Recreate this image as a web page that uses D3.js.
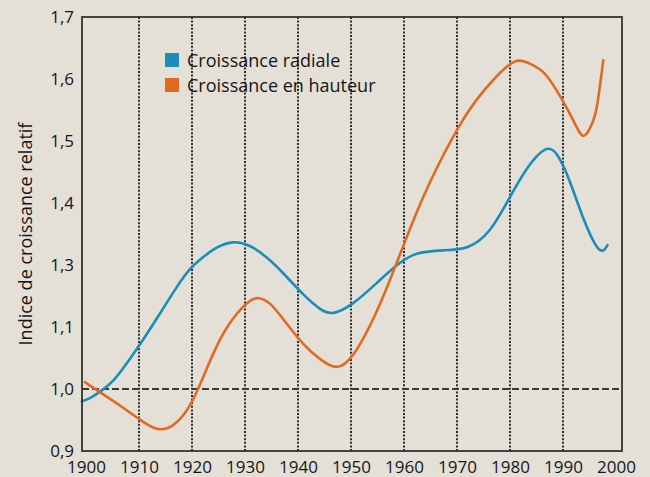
<!DOCTYPE html>
<html lang="fr">
<head>
  <meta charset="UTF-8">
  <title>Indice de croissance relatif</title>
  <script src="https://d3js.org/d3.v7.min.js"></script>
  <style>
    body { margin: 0; background: #e4e0d8; }
    svg { display: block; background: #e4e0d8; }
    text { font-family: "Open Sans", sans-serif; fill: #161616; }
    .axis text { font-size: 17px; fill: #161616; }
    .axis path, .axis line { display: none; }
    .frame { fill: none; stroke: #333; stroke-width: 1.8px; }
    .grid { stroke: #2e2e2e; stroke-width: 2px; stroke-dasharray: 2,1.6; }
    .baseline { stroke: #3a3a3a; stroke-width: 2px; stroke-dasharray: 7,3; }
    .curve { fill: none; stroke-width: 2.6px; stroke-linejoin: round; stroke-linecap: round; }
  </style>
</head>
<body>
<svg id="chart" width="650" height="477"></svg>
<script>
  // data
  const xTicks = [1900, 1910, 1920, 1930, 1940, 1950, 1960, 1970, 1980, 1990, 2000];
  const gridYears = [1910, 1920, 1930, 1940, 1950, 1960, 1970, 1980, 1990];
  // the printed axis skips 1,2 : labels are evenly spaced as printed
  const yTicks = [0.9, 1.0, 1.1, 1.3, 1.4, 1.5, 1.6, 1.7];

  const seriesNames = ["Croissance radiale", "Croissance en hauteur"];
  const seriesColors = ["#1a8dbb", "#e06a22"];

  const radialYears = [1899.2, 1900.8, 1902.6, 1905.2, 1907.7, 1911.0, 1914.0, 1917.1, 1919.6, 1921.5,
                       1924.7, 1927.8, 1930.9, 1934.1, 1937.3, 1941.0, 1944.2, 1946.4, 1950.3, 1954.8,
                       1959.2, 1962.4, 1967.4, 1972.1, 1976.2, 1979.7, 1983.2, 1986.8, 1988.8, 1991.3,
                       1993.8, 1997.0, 1998.4];
  const radialValues = [0.980, 0.985, 0.995, 1.012, 1.041, 1.082, 1.144, 1.230, 1.289, 1.309,
                        1.330, 1.339, 1.333, 1.313, 1.273, 1.203, 1.155, 1.137, 1.171, 1.241,
                        1.305, 1.321, 1.324, 1.325, 1.351, 1.405, 1.459, 1.493, 1.484, 1.437,
                        1.373, 1.313, 1.332];

  const heightYears = [1899.8, 1902.6, 1906.4, 1911.0, 1913.6, 1916.5, 1919.0, 1920.9, 1924.7, 1927.8,
                       1930.9, 1932.5, 1934.7, 1937.8, 1941.0, 1944.2, 1947.3, 1950.3, 1955.5, 1960.5,
                       1964.3, 1970.8, 1975.0, 1979.7, 1981.8, 1983.8, 1986.6, 1988.8, 1991.3, 1993.2,
                       1994.2, 1995.7, 1996.4, 1997.6];
  const heightValues = [1.011, 0.995, 0.974, 0.945, 0.932, 0.939, 0.963, 0.993, 1.074, 1.133,
                        1.188, 1.197, 1.182, 1.112, 1.071, 1.047, 1.030, 1.047, 1.165, 1.346,
                        1.426, 1.534, 1.582, 1.625, 1.632, 1.625, 1.612, 1.582, 1.545, 1.510,
                        1.505, 1.531, 1.550, 1.630];

  const svg = d3.select("#chart");
  const width = +svg.attr("width");
  const height = +svg.attr("height");
  const margin = { top: 17, right: 28, bottom: 26, left: 82 };
  const innerW = width - margin.left - margin.right;
  const innerH = height - margin.top - margin.bottom;

  const g = svg.append("g")
    .attr("transform", "translate(" + margin.left + "," + margin.top + ")");

  const x = d3.scaleLinear().domain([1900, 2000]).range([4, innerW - 6]);
  // polylinear: one even step per printed label
  const y = d3.scaleLinear()
    .domain(yTicks)
    .range(yTicks.map((d, i) => innerH - i * innerH / (yTicks.length - 1)));

  // vertical dotted lines
  g.selectAll("line.grid").data(gridYears)
    .join("line")
    .attr("class", "grid")
    .attr("x1", d => x(d)).attr("x2", d => x(d))
    .attr("y1", 0).attr("y2", innerH);

  // reference line at 1,0
  g.append("line")
    .attr("class", "baseline")
    .attr("x1", 0).attr("x2", innerW)
    .attr("y1", y(1.0)).attr("y2", y(1.0));

  const line = d3.line()
    .x(d => x(d[0]))
    .y(d => y(d[1]))
    .curve(d3.curveBasis);

  const series = [
    d3.zip(radialYears, radialValues),
    d3.zip(heightYears, heightValues)
  ];

  g.selectAll("path.curve").data(series)
    .join("path")
    .attr("class", "curve")
    .attr("stroke", (d, i) => seriesColors[i])
    .attr("d", line);

  g.append("rect")
    .attr("class", "frame")
    .attr("width", innerW).attr("height", innerH);

  // axes (labels only)
  g.append("g")
    .attr("class", "axis")
    .call(d3.axisLeft(y).tickValues(yTicks).tickSize(0).tickPadding(8)
      .tickFormat(d => d3.format(".1f")(d).replace(".", ",")));

  g.append("g")
    .attr("class", "axis")
    .attr("transform", "translate(0," + innerH + ")")
    .call(d3.axisBottom(x).tickValues(xTicks).tickSize(0).tickPadding(10)
      .tickFormat(d3.format("d")));

  svg.append("text")
    .attr("transform", "translate(32," + (margin.top + innerH / 2) + ") rotate(-90)")
    .attr("text-anchor", "middle")
    .style("font-size", "18px")
    .text("Indice de croissance relatif");

  // legend
  const legend = g.append("g").attr("transform", "translate(83,36)");
  const items = legend.selectAll("g").data(seriesNames)
    .join("g")
    .attr("transform", (d, i) => "translate(0," + i * 25 + ")");
  items.append("rect")
    .attr("width", 14).attr("height", 14)
    .attr("fill", (d, i) => seriesColors[i]);
  items.append("text")
    .attr("x", 22).attr("y", 14)
    .style("font-size", "18px")
    .text(d => d);
</script>
</body>
</html>
